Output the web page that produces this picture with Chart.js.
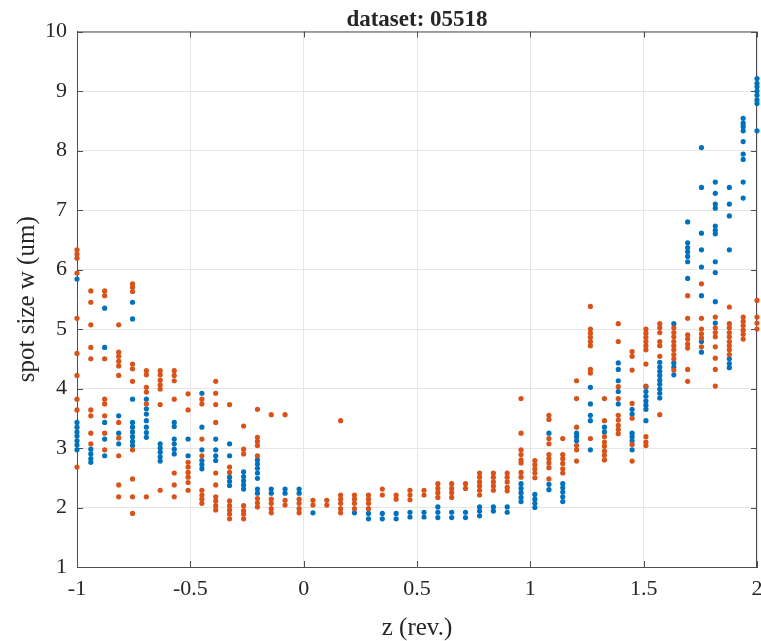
<!DOCTYPE html>
<html>
<head>
<meta charset="utf-8">
<script src="https://cdn.jsdelivr.net/npm/chart.js@4.4.1/dist/chart.umd.min.js"></script>
<style>
  html, body { margin: 0; padding: 0; background: #fff; }
</style>
</head>
<body>
<canvas id="myChart" width="761" height="641"></canvas>
<script>
'use strict';
// z positions of the measurement columns
let zCols = [-1.000, -0.939, -0.878, -0.816, -0.755, -0.694, -0.633, -0.571, -0.510, -0.449,
  -0.388, -0.327, -0.265, -0.204, -0.143, -0.082, -0.020, 0.041, 0.102, 0.163,
  0.224, 0.286, 0.347, 0.408, 0.469, 0.531, 0.592, 0.653, 0.714, 0.776,
  0.837, 0.898, 0.959, 1.020, 1.082, 1.143, 1.204, 1.265, 1.327, 1.388,
  1.449, 1.510, 1.571, 1.633, 1.694, 1.755, 1.816, 1.878, 1.939, 2.000];

// spot size per column, blue series
let blueW = [
  [5.84, 3.43, 3.35, 3.27, 3.20, 3.12, 3.05, 2.97],
  [2.98, 2.90, 2.82, 2.76],
  [5.35, 4.69, 3.43, 3.15, 2.87],
  [3.54, 3.25, 3.07],
  [5.45, 5.17, 3.82, 3.43, 3.35, 3.27, 3.19, 3.11, 3.04],
  [3.82, 3.66, 3.57, 3.46, 3.35, 3.26, 3.18],
  [3.07, 3.00, 2.93, 2.85, 2.78],
  [3.43, 3.36, 3.15, 3.07, 2.98, 2.90],
  [3.15, 2.87],
  [3.92, 3.35, 2.97, 2.79, 2.72, 2.65],
  [3.15, 2.97, 2.87, 2.79],
  [3.07, 2.87, 2.51, 2.44, 2.37],
  [2.60, 2.52, 2.45, 2.38, 2.31],
  [2.80, 2.73, 2.66, 2.58, 2.49, 2.31, 2.24],
  [2.31, 2.24],
  [2.31, 2.24],
  [2.31, 2.24],
  [1.91],
  [],
  [],
  [1.91],
  [1.90, 1.81],
  [1.90, 1.81],
  [1.90, 1.81],
  [1.92, 1.84],
  [1.92, 1.84],
  [2.01, 1.92, 1.83],
  [1.92, 1.83],
  [1.92, 1.83],
  [2.01, 1.94, 1.86],
  [2.01, 1.94],
  [2.01, 1.92],
  [2.40, 2.32, 2.25, 2.17, 2.10],
  [2.22, 2.14, 2.07, 2.00],
  [3.25, 2.39, 2.30],
  [2.40, 2.33, 2.26, 2.18, 2.10],
  [3.25, 3.19, 3.12],
  [4.02, 3.74, 3.55, 3.46, 2.97],
  [3.35, 3.27],
  [4.43, 4.32, 4.13, 3.95, 3.74],
  [3.65, 3.57, 3.25, 3.19, 3.12, 2.97],
  [4.03, 3.95, 3.87, 3.79, 3.72, 3.65, 3.46],
  [4.44, 4.36, 4.29, 4.22, 4.14, 4.07, 3.99, 3.92, 3.84],
  [5.09, 4.43, 4.36, 4.23],
  [6.80, 6.45, 6.37, 6.30, 6.22, 6.13, 5.85],
  [8.05, 7.38, 6.61, 6.33, 6.04, 5.56, 4.79, 4.61],
  [7.47, 7.28, 7.10, 7.03, 6.73, 6.66, 6.60, 6.13, 5.95, 5.46, 5.10],
  [7.38, 7.10, 6.90, 6.33, 4.50, 4.42, 4.35],
  [8.54, 8.46, 8.40, 8.33, 8.15, 7.94, 7.85, 7.47, 7.20],
  [9.21, 9.13, 9.07, 9.00, 8.93, 8.85, 8.79, 8.33]
];

// spot size per column, orange series
let orangeW = [
  [6.33, 6.26, 6.19, 5.94, 5.18, 4.59, 4.22, 3.82, 3.64, 2.68],
  [5.64, 5.45, 5.07, 4.69, 4.50, 3.64, 3.54, 3.25, 3.07],
  [5.64, 5.56, 4.50, 3.82, 3.74, 3.54, 3.25, 2.97],
  [5.07, 4.61, 4.54, 4.46, 4.38, 4.22, 3.43, 3.17, 2.87, 2.38, 2.18],
  [5.76, 5.70, 5.63, 4.41, 4.33, 4.12, 2.97, 2.48, 2.18, 1.90],
  [4.30, 4.23, 4.02, 3.94, 3.74, 2.18],
  [4.30, 4.23, 4.14, 4.06, 3.99, 3.73, 2.29],
  [4.30, 4.22, 4.13, 3.82, 2.58, 2.38, 2.18],
  [3.91, 3.64, 2.76, 2.68, 2.59, 2.51, 2.42, 2.29],
  [3.82, 3.74, 3.15, 2.87, 2.29, 2.21, 2.14, 2.07],
  [4.12, 3.92, 3.73, 3.43, 2.58, 2.38, 2.18, 2.11, 2.03, 1.96],
  [3.73, 2.68, 2.59, 2.11, 2.03, 1.96, 1.89, 1.81],
  [3.37, 2.98, 2.90, 2.03, 1.95, 1.89, 1.81],
  [3.65, 3.18, 3.11, 3.04, 2.87, 2.15, 2.08, 2.01],
  [3.56, 2.14, 2.07, 1.98, 1.91],
  [3.56, 2.12, 2.04],
  [2.14, 2.07, 1.98, 1.91],
  [2.12, 2.04],
  [2.12, 2.04],
  [3.46, 2.21, 2.14, 2.07, 1.98, 1.91],
  [2.21, 2.14, 2.07, 1.98],
  [2.21, 2.14, 2.07, 1.98],
  [2.31, 2.21],
  [2.21, 2.14],
  [2.29, 2.21, 2.13],
  [2.29, 2.21],
  [2.40, 2.32, 2.25, 2.17],
  [2.40, 2.32, 2.25, 2.17],
  [2.40, 2.32],
  [2.58, 2.51, 2.43, 2.36, 2.29, 2.21],
  [2.58, 2.51, 2.43, 2.36, 2.29],
  [2.58, 2.51, 2.43, 2.34, 2.28],
  [3.83, 3.25, 2.97, 2.89, 2.80, 2.75, 2.59, 2.51],
  [2.79, 2.72, 2.65, 2.58, 2.50],
  [3.55, 3.48, 3.16, 3.07, 2.89, 2.82, 2.75, 2.67, 2.48],
  [3.16, 2.89, 2.82, 2.74, 2.65, 2.58],
  [4.13, 3.83, 3.35, 3.04, 2.97, 2.78],
  [5.38, 5.00, 4.93, 4.86, 4.79, 4.72, 4.32, 4.26, 3.16],
  [3.83, 3.46, 3.19, 3.10, 3.03, 2.95, 2.88, 2.80],
  [5.09, 4.79, 4.03, 3.83, 3.55, 3.47, 3.38, 3.31, 3.24],
  [4.62, 4.54, 4.31, 3.75, 3.50, 3.06, 2.78],
  [5.00, 4.93, 4.86, 4.79, 4.72, 4.65, 4.41, 4.04, 3.19, 3.10, 3.04],
  [5.09, 5.02, 4.94, 4.79, 4.72, 4.54, 3.56],
  [5.02, 4.94, 4.87, 4.79, 4.72, 4.65, 4.57, 4.50, 4.31],
  [5.56, 5.18, 4.90, 4.83, 4.75, 4.68, 4.32, 4.12],
  [5.76, 5.18, 5.00, 4.92, 4.85, 4.70],
  [5.20, 5.02, 4.94, 4.87, 4.70, 4.51, 4.32, 4.04],
  [5.37, 5.09, 5.02, 4.94, 4.87, 4.79, 4.72, 4.65, 4.57],
  [5.20, 5.13, 5.06, 4.98, 4.91, 4.83],
  [5.48, 5.20, 5.10, 5.00]
];

let xTicks = [-1, -0.5, 0, 0.5, 1, 1.5, 2];
let yTicks = [1, 2, 3, 4, 5, 6, 7, 8, 9, 10];

let axisColor = '#4d4d4d';
let textColor = '#262626';
let serif = "'Liberation Serif', 'Times New Roman', serif";

function toPoints(cols) {
    let pts = [];
    for (let i = 0; i < zCols.length; i++) {
        for (let j = 0; j < cols[i].length; j++) {
            pts.push({ x: zCols[i], y: cols[i][j] });
        }
    }
    return pts;
}

// top/right box lines and inward tick marks, MATLAB style
let boxPlugin = {
    id: 'box',
    beforeDatasetsDraw(chart) {
        let ctx = chart.ctx;
        let a = chart.chartArea;
        let sx = chart.scales.x;
        let sy = chart.scales.y;
        ctx.save();
        ctx.strokeStyle = axisColor;
        ctx.lineWidth = 1;
        ctx.beginPath();
        ctx.moveTo(a.left, a.top + 0.5);
        ctx.lineTo(a.right - 0.5, a.top + 0.5);
        ctx.lineTo(a.right - 0.5, a.bottom);
        sx.ticks.forEach(t => {
            let px = Math.round(sx.getPixelForValue(t.value)) + 0.5;
            ctx.moveTo(px, a.bottom); ctx.lineTo(px, a.bottom - 6);
            ctx.moveTo(px, a.top); ctx.lineTo(px, a.top + 6);
        });
        sy.ticks.forEach(t => {
            let py = Math.round(sy.getPixelForValue(t.value)) + 0.5;
            ctx.moveTo(a.left, py); ctx.lineTo(a.left + 6, py);
            ctx.moveTo(a.right, py); ctx.lineTo(a.right - 6, py);
        });
        ctx.stroke();
        ctx.restore();
    }
};

let ctx = document.getElementById('myChart').getContext('2d');
let myChart = new Chart(ctx, {
    type: 'scatter',
    data: {
        datasets: [{
            label: 'blue',
            data: toPoints(blueW),
            backgroundColor: '#0072BD',
            borderWidth: 0,
            pointRadius: 2.6,
            order: 2,
            clip: false
        }, {
            label: 'orange',
            data: toPoints(orangeW),
            backgroundColor: '#D95319',
            borderWidth: 0,
            pointRadius: 2.6,
            order: 1,
            clip: false
        }]
    },
    options: {
        responsive: false,
        animation: false,
        layout: { padding: { right: 1 } },
        plugins: {
            legend: { display: false },
            tooltip: { enabled: false },
            title: {
                display: true,
                text: 'dataset: 05518',
                fullSize: false,
                color: textColor,
                font: { family: serif, size: 23, weight: 'bold', lineHeight: 1 },
                padding: { top: 8.5, bottom: 0 }
            }
        },
        scales: {
            x: {
                type: 'linear',
                min: -1,
                max: 2,
                afterBuildTicks: s => { s.ticks = xTicks.map(v => ({ value: v })); },
                afterFit: s => { s.height = 74; s.paddingLeft = 0; s.paddingRight = 0; },
                ticks: {
                    color: textColor,
                    font: { family: serif, size: 22 },
                    padding: 9,
                    maxRotation: 0,
                    callback: v => String(v)
                },
                grid: { color: '#e6e6e6', drawTicks: false },
                border: { display: true, color: axisColor, width: 1 },
                title: {
                    display: true,
                    text: 'z (rev.)',
                    color: textColor,
                    font: { family: serif, size: 25, lineHeight: 1 },
                    padding: { top: 0, bottom: 0 }
                }
            },
            y: {
                type: 'linear',
                min: 1,
                max: 10,
                afterBuildTicks: s => { s.ticks = yTicks.map(v => ({ value: v })); },
                afterFit: s => { s.width = 77; s.paddingTop = 0; s.paddingBottom = 0; },
                ticks: {
                    color: textColor,
                    font: { family: serif, size: 22 },
                    padding: 10,
                    callback: v => String(v)
                },
                grid: { color: '#e6e6e6', drawTicks: false },
                border: { display: true, color: axisColor, width: 1 },
                title: {
                    display: true,
                    text: 'spot size w (um)',
                    color: textColor,
                    font: { family: serif, size: 25, lineHeight: 1 },
                    padding: { top: 14.5, bottom: 0 }
                }
            }
        }
    },
    plugins: [boxPlugin]
});
</script>
</body>
</html>
